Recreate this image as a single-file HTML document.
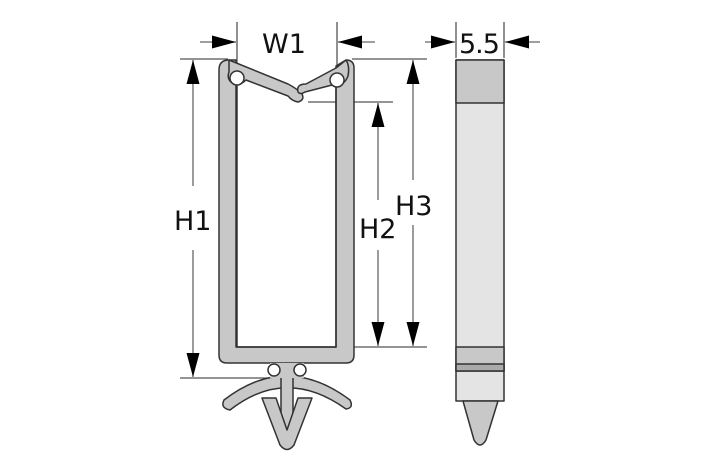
<!DOCTYPE html>
<html><head><style>body{margin:0;background:#fff}svg{display:block}text{font-family:"DejaVu Sans","Liberation Sans",sans-serif;font-size:27px;fill:#111}</style></head>
<body>
<svg width="709" height="472" viewBox="0 0 709 472" xmlns="http://www.w3.org/2000/svg">
<defs>
<marker id="a" viewBox="0 0 10 10" refX="10" refY="5" markerWidth="24" markerHeight="13" markerUnits="userSpaceOnUse" orient="auto" preserveAspectRatio="none"><path d="M0,0L10,5L0,10z" fill="#000"/></marker>
</defs>
<g stroke="#555" stroke-width="1.3" fill="none">
<line x1="180" y1="59" x2="228" y2="59"/>
<line x1="180" y1="378" x2="300" y2="378"/>
<line x1="352" y1="59" x2="427" y2="59"/>
<line x1="308" y1="102" x2="393" y2="102"/>
<line x1="343" y1="347" x2="427" y2="347"/>
<line x1="237" y1="22" x2="237" y2="78"/>
<line x1="337" y1="22" x2="337" y2="80"/>
<line x1="456" y1="22" x2="456" y2="58"/>
<line x1="504" y1="22" x2="504" y2="58"/>
</g>
<g stroke="#666" stroke-width="1.3" fill="none">
<line x1="193" y1="186" x2="193" y2="60" marker-end="url(#a)"/>
<line x1="193" y1="250" x2="193" y2="377" marker-end="url(#a)"/>
<line x1="378" y1="200" x2="378" y2="103" marker-end="url(#a)"/>
<line x1="378" y1="250" x2="378" y2="346" marker-end="url(#a)"/>
<line x1="413" y1="180" x2="413" y2="60" marker-end="url(#a)"/>
<line x1="413" y1="225" x2="413" y2="346" marker-end="url(#a)"/>
<line x1="200" y1="42" x2="236" y2="42" marker-end="url(#a)"/>
<line x1="375" y1="42" x2="338" y2="42" marker-end="url(#a)"/>
<line x1="425" y1="42" x2="455" y2="42" marker-end="url(#a)"/>
<line x1="540" y1="42" x2="505" y2="42" marker-end="url(#a)"/>
</g>
<text x="262" y="53">W1</text>
<text x="459" y="53" style="letter-spacing:-1px">5.5</text>
<text x="174" y="230">H1</text>
<text x="359" y="238">H2</text>
<text x="395" y="215">H3</text>

<g fill="#c8c8c8" stroke="#333" stroke-width="1.5" stroke-linejoin="round">
<path d="M219,70 Q219,60 229,60 L236,60 L236,347 L336,347 L336,66 L346,60 Q354,60 354,68 L354,355 Q354,363 346,363 L227,363 Q219,363 219,355 Z"/>
<path d="M237,70 L237,347 L336,347 L336,70" fill="none"/>
<path d="M229,60 L288,84 Q296,88 302,94 Q305,100 298,102 Q292,101 288,96 L246,80 Q240,86 234,84 Q226,80 229,72 Z"/>
<path d="M346,60 Q350,66 348,76 Q344,86 336,84 L305,92 Q300,95 298,92 Q296,84 306,84 L336,68 Z"/>
<circle cx="237" cy="78" r="7" fill="#fff"/>
<circle cx="337" cy="80" r="7" fill="#fff"/>
<path d="M224,400 Q286,352 350,400 Q354,408 346,409 Q286,366 230,410 Q220,408 224,400 Z"/>
<rect x="281" y="376" width="12" height="62"/>
<path d="M262,398 L276,398 L287,430 L298,398 L312,398 L294,445 Q287,454 280,445 Z"/>
<path d="M270,363 L304,363 L304,378 L270,378 Z" stroke="none"/>
<circle cx="274" cy="370" r="6" fill="#fff"/>
<circle cx="300" cy="370" r="6" fill="#fff"/>
<rect x="456" y="60" width="48" height="341" fill="#e4e4e4"/>
<rect x="456" y="60" width="48" height="43"/>
<rect x="456" y="347" width="48" height="24"/>
<rect x="456" y="364" width="48" height="7" fill="#aaa"/>
<path d="M463,401 L498,401 L486,440 Q480,450 474,440 Z"/>
</g>
<g stroke="#333" stroke-dasharray="3,2" stroke-width="1"><line x1="457" y1="103" x2="503" y2="103"/><line x1="457" y1="347" x2="503" y2="347"/></g>
</svg>
</body></html>
